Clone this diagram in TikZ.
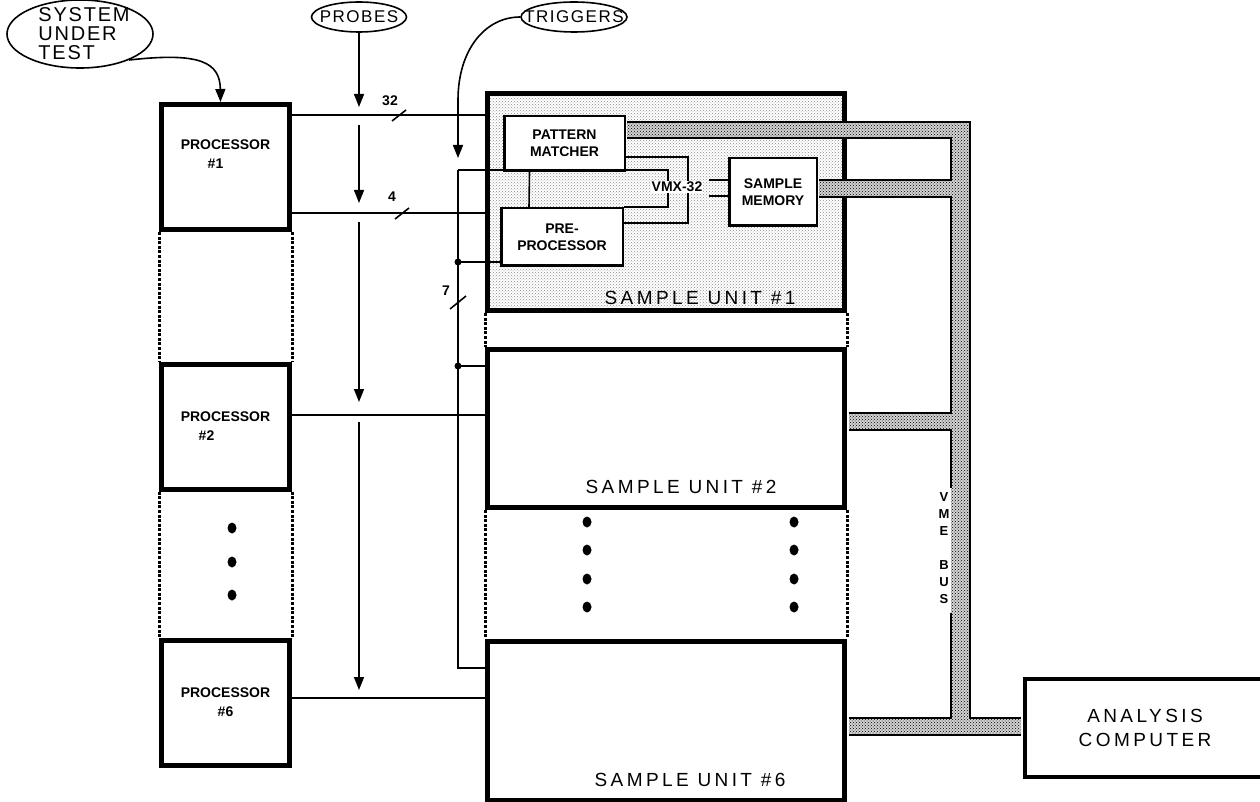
\documentclass[tikz,border=0pt]{standalone}
\usepackage{fontspec}
\setmainfont{Liberation Sans}
\newfontfamily\widefont[LetterSpace=18]{Liberation Sans}
\newfontfamily\ovalfont[LetterSpace=9]{Liberation Sans}
\usetikzlibrary{shapes.geometric,patterns,arrows.meta,positioning}

\begin{document}
\begin{tikzpicture}[x=1pt, y=-1pt, >={Triangle[length=13pt,width=10pt]},
    wire/.style={line width=1.6pt},
    procbox/.style={draw, line width=5pt, minimum width=128pt, minimum height=125pt},
    unitbox/.style={draw, line width=5pt, minimum width=357pt},
    innerbox/.style={draw, line width=2.5pt, fill=white, align=center, font=\fontsize{14}{17}\selectfont\bfseries},
    oval/.style={draw, ellipse, line width=1.6pt},
    dotline/.style={line width=3pt, dash pattern=on 3pt off 1.6pt},
    boldlbl/.style={font=\fontsize{14}{19}\selectfont\bfseries, align=center},
    smalllbl/.style={font=\fontsize{14}{14}\selectfont\bfseries},
    widelbl/.style={font=\widefont\fontsize{19}{24}\selectfont, align=center},
    bus/.style={pattern=crosshatch dots, pattern color=black, preaction={fill=gray!35}}]
    \useasboundingbox (0,0) rectangle (1260,802);

    % Ovals on top
    \node[oval, minimum width=146pt, minimum height=68pt] (sut) at (80,34) {};
    \node[font=\ovalfont\fontsize{20}{19}\selectfont, align=left] (sutlbl) at ([xshift=4pt]sut.center) {SYSTEM\\UNDER\\TEST};
    \node[oval, minimum width=95pt, minimum height=30pt] (probes) at (359,17) {};
    \node[font=\ovalfont\fontsize{17}{17}\selectfont] (probeslbl) at (probes) {PROBES};
    \node[oval, minimum width=106pt, minimum height=30pt] (trig) at (574,17) {};
    \node[font=\ovalfont\fontsize{17}{17}\selectfont] (triglbl) at (trig) {TRIGGERS};

    % Processors
    \node[procbox] (proc1) at (225.5,167) {};
    \node[procbox] (proc2) at (225.5,426.5) {};
    \node[procbox] (proc6) at (225.5,702.5) {};
    \node[boldlbl] (proc1lbl) at ([yshift=13pt]proc1.center) {PROCESSOR\\\hspace*{-20pt}\#1};
    \node[boldlbl] (proc2lbl) at (proc2) {PROCESSOR\\\hspace*{-38pt}\#2};
    \node[boldlbl] (proc6lbl) at (proc6) {PROCESSOR\\\#6};
    \draw[dotline] (proc1.south west) -- (proc2.north west);
    \draw[dotline] (proc1.south east) -- (proc2.north east);
    \draw[dotline] (proc2.south west) -- (proc6.north west);
    \draw[dotline] (proc2.south east) -- (proc6.north east);
    \foreach \y in {528,562,595}
        \fill (232,\y) ellipse (4.5 and 5.5);

    % Sample units
    \node[unitbox, minimum height=217pt, pattern=crosshatch dots, pattern color=black!45] (su1) at (666,202) {};
    \node[unitbox, minimum height=158pt] (su2) at (666,428.5) {};
    \node[unitbox, minimum height=159pt] (su6) at (666,720.5) {};
    \node[widelbl] (su1lbl) at ([xshift=34pt,yshift=15pt]su1.south) {SAMPLE UNIT \#1};
    \node[widelbl] (su2lbl) at ([xshift=15pt,yshift=23pt]su2.south) {SAMPLE UNIT \#2};
    \node[widelbl] (su6lbl) at ([xshift=24pt,yshift=23pt]su6.south) {SAMPLE UNIT \#6};
    \draw[dotline] (su1.south west) -- (su2.north west);
    \draw[dotline] (su1.south east) -- (su2.north east);
    \draw[dotline] (su2.south west) -- (su6.north west);
    \draw[dotline] (su2.south east) -- (su6.north east);
    \foreach \y in {522,550,579,607} {
        \fill (587,\y) ellipse (4.5 and 5.5);
        \fill (794,\y) ellipse (4.5 and 5.5);
    }

    % Inside sample unit 1
    \node[innerbox, minimum width=120.5pt, minimum height=54.5pt] (pm) at (564.5,143.5) {PATTERN\\MATCHER};
    \node[innerbox, minimum width=121.5pt, minimum height=57.5pt] (pp) at (562,237) {PRE-\\PROCESSOR};
    \node[innerbox, minimum width=87.5pt, minimum height=67.5pt] (sm) at (773,192) {SAMPLE\\MEMORY};

    % Analysis computer
    \node[draw, line width=4pt, minimum width=240pt, minimum height=98pt, widelbl] (ac) at (1145,728) {ANALYSIS\\COMPUTER};

    % Processor buses
    \draw[wire] (proc1.east |- 0,115) -- (su1.west |- 0,115);
    \draw[wire] (proc1.east |- 0,213) -- (su1.west |- 0,213);
    \draw[wire] (proc2.east |- 0,415) -- (su2.west |- 0,415);
    \draw[wire] (proc6.east |- 0,698) -- (su6.west |- 0,698);
    \draw[wire] (392,121) -- (406,110);
    \draw[wire] (395,219) -- (409,208);
    \node[smalllbl] (w32) at (390,101) {32};
    \node[smalllbl] (w4) at (392,197) {4};

    % Probe taps
    \coordinate (pt1) at (359,107);
    \coordinate (pt2) at (359,203);
    \coordinate (pt3) at (359,402);
    \coordinate (pt4) at (359,690);
    \draw[->, wire] (probes.south) -- (pt1);
    \draw[->, wire] (359,125) -- (pt2);
    \draw[->, wire] (359,222) -- (pt3);
    \draw[->, wire] (359,422) -- (pt4);

    % Arrow from system under test
    \draw[->, wire] (sut.-28) .. controls (200,52) and (220,62) .. ([xshift=-5pt]proc1.north);

    % Trigger bus
    \coordinate (trigtip) at (458,158);
    \coordinate (tb0) at (458,170);
    \coordinate (td1) at (458,262);
    \coordinate (td2) at (458,366);
    \draw[->, wire] (trig.west) .. controls (485,17) and (458,50) .. (458,100) -- (trigtip);
    \draw[wire] (tb0) |- (su6.west |- 0,668);
    \draw[wire] (tb0) -- (668,170) -- (668,207) -- (pp.north east);
    \draw[wire] (pm.east |- 0,157) -| (688,223) -- (pp.east |- 0,223);
    \draw[wire] ([xshift=-35pt]pm.south) -- ([xshift=-33pt]pp.north);
    \fill (td1) circle (3.5);
    \fill (td2) circle (3.5);
    \draw[wire] (td1) -- (pp.west |- td1);
    \draw[wire] (td2) -- (su2.west |- td2);
    \draw[wire] (450,309) -- (466,296);
    \node[smalllbl] (w7) at (446,291) {7};

    % VMX-32
    \node[boldlbl, fill=white, inner sep=1pt] (vmx) at (677,187) {VMX-32};
    \draw[wire] ([xshift=6pt,yshift=7pt]vmx.east) -- (sm.west |- 0,180);
    \draw[wire] ([xshift=6pt,yshift=-9pt]vmx.east) -- (sm.west |- 0,196);

    % VME bus
    \fill[bus] ([xshift=1pt]pm.east |- 0,122) -- (970,122) -- (970,718) -- ([xshift=-2pt]ac.west |- 0,718)
        -- ([xshift=-2pt]ac.west |- 0,735) -- ([xshift=2pt]su6.east |- 0,735) -- ([xshift=2pt]su6.east |- 0,718)
        -- (951,718) -- (951,430) -- ([xshift=2pt]su2.east |- 0,430) -- ([xshift=2pt]su2.east |- 0,413)
        -- (951,413) -- (951,197) -- ([xshift=1pt]sm.east |- 0,197) -- ([xshift=1pt]sm.east |- 0,180)
        -- (951,180) -- (951,138) -- ([xshift=1pt]pm.east |- 0,138) -- cycle;
    \draw[line width=2pt] ([xshift=1pt]pm.east |- 0,138) -- (951,138) -- (951,180) -- ([xshift=1pt]sm.east |- 0,180)
        ([xshift=1pt]sm.east |- 0,197) -- (951,197) -- (951,413) -- ([xshift=2pt]su2.east |- 0,413)
        ([xshift=2pt]su2.east |- 0,430) -- (951,430) -- (951,488)
        (951,613) -- (951,718) -- ([xshift=2pt]su6.east |- 0,718)
        ([xshift=2pt]su6.east |- 0,735) -- ([xshift=-2pt]ac.west |- 0,735)
        ([xshift=-2pt]ac.west |- 0,718) -- (970,718) -- (970,122) -- ([xshift=1pt]pm.east |- 0,122);
    \node[font=\fontsize{13}{17}\selectfont\bfseries, align=center] (vmelbl) at (944,548) {V\\M\\E\\[17pt]B\\U\\S};
\end{tikzpicture}
\end{document}
